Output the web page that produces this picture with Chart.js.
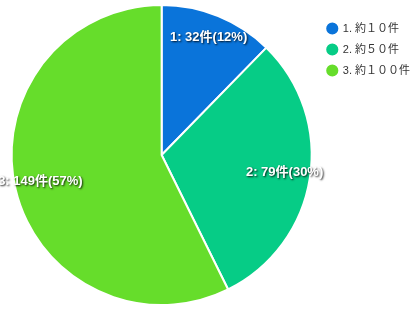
<!DOCTYPE html>
<html>
<head>
<meta charset="utf-8">
<script src="https://cdn.jsdelivr.net/npm/chart.js@4/dist/chart.umd.min.js"></script>
<style>
  html, body { margin: 0; padding: 0; background: #ffffff; }
  #wrap { width: 412px; height: 310px; position: relative; }
</style>
</head>
<body>
<div id="wrap"><canvas id="pieChart"></canvas></div>
<script>
// Chart data
const categories = ['1. 約１０件', '2. 約５０件', '3. 約１００件'];
const counts = [32, 79, 149];
const sliceColors = ['#0a74da', '#06cc86', '#66dd2b'];

// Draw "n: count件(pct%)" inside each slice
const sliceLabels = {
    id: 'sliceLabels',
    afterDatasetsDraw(chart) {
        const ctx = chart.ctx;
        const meta = chart.getDatasetMeta(0);
        const total = counts.reduce((a, b) => a + b, 0);
        ctx.save();
        ctx.font = 'bold 13px "Liberation Sans", Arial, "Noto Sans CJK JP", sans-serif';
        ctx.textAlign = 'center';
        ctx.textBaseline = 'middle';
        ctx.fillStyle = '#ffffff';
        ctx.shadowColor = 'rgba(0, 0, 0, 0.85)';
        ctx.shadowBlur = 2;
        ctx.shadowOffsetX = 1;
        ctx.shadowOffsetY = 1;
        meta.data.forEach((arc, i) => {
            const p = arc.getProps(['x', 'y', 'startAngle', 'endAngle', 'outerRadius'], true);
            const mid = (p.startAngle + p.endAngle) / 2;
            const r = p.outerRadius * 0.83;
            const pct = Math.round(counts[i] / total * 100);
            const text = `${i + 1}: ${counts[i]}件(${pct}%)`;
            ctx.fillText(text, p.x + Math.cos(mid) * r, p.y + Math.sin(mid) * r - 2);
        });
        ctx.restore();
    }
};

new Chart(document.getElementById('pieChart'), {
    type: 'pie',
    data: {
        labels: categories,
        datasets: [{
            data: counts,
            backgroundColor: sliceColors,
            borderColor: '#ffffff',
            borderWidth: 2
        }]
    },
    options: {
        responsive: true,
        maintainAspectRatio: false,
        animation: false,
        layout: { padding: { top: 4, bottom: 4, left: 6, right: -8 } },
        plugins: {
            tooltip: { enabled: false },
            legend: {
                position: 'right',
                align: 'start',
                title: { display: true, text: ' ', padding: 0, font: { size: 7.5 } },
                labels: {
                    usePointStyle: true,
                    pointStyle: 'circle',
                    boxWidth: 10,
                    boxHeight: 10,
                    padding: 10,
                    color: '#333333',
                    font: { size: 11, family: '"Liberation Sans", Arial, "Noto Sans CJK JP", sans-serif' }
                }
            }
        }
    },
    plugins: [sliceLabels]
});
</script>
</body>
</html>
